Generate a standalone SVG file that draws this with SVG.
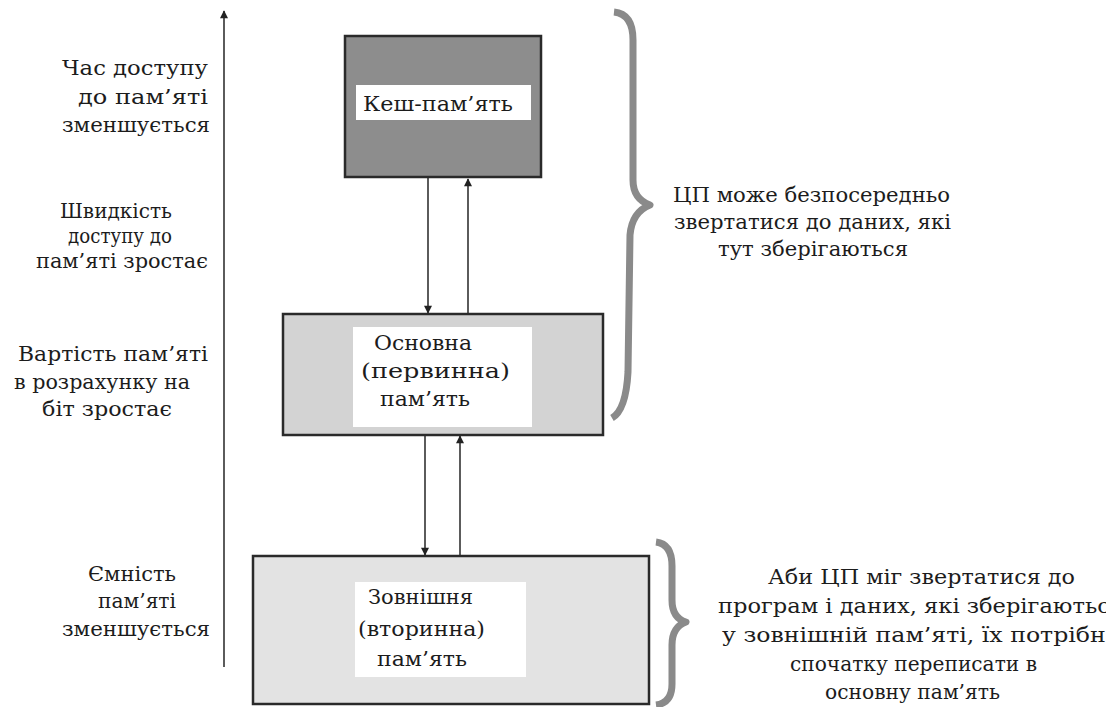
<svg xmlns="http://www.w3.org/2000/svg" width="1106" height="707" viewBox="0 0 1106 707" font-family="'DejaVu Serif', 'Liberation Serif', serif">
<style>
text{font-family:'DejaVu Serif','Liberation Serif',serif;font-size:21px;fill:#1c1c1c}
.box{stroke:#2a2a2a;stroke-width:2.5}
.lbl{fill:#fff;stroke:none}
.conn{stroke:#333;stroke-width:1.6;fill:none}
.brace{fill:none;stroke:#8a8a8a;stroke-width:7;stroke-linejoin:round}
</style>
<defs>
<marker id="ah" viewBox="0 0 10 10" refX="9" refY="5" markerWidth="9" markerHeight="8" markerUnits="userSpaceOnUse" orient="auto">
<path d="M0,0 L10,5 L0,10 z" fill="#222"/>
</marker>
</defs>
<rect width="1106" height="707" fill="#fff"/>

<g id="axis">
<line class="conn" x1="224" y1="667" x2="224" y2="11" marker-end="url(#ah)"/>
</g>

<g id="left-labels">
<g id="lbl-time">
<text x="62" y="75" textLength="146" lengthAdjust="spacingAndGlyphs">Час доступу</text>
<text x="78" y="104" textLength="130" lengthAdjust="spacingAndGlyphs">до пам’яті</text>
<text x="62" y="132" textLength="148" lengthAdjust="spacingAndGlyphs">зменшується</text>
</g>
<g id="lbl-speed">
<text x="60" y="218" textLength="112" lengthAdjust="spacingAndGlyphs">Швидкість</text>
<text x="68" y="243" textLength="104" lengthAdjust="spacingAndGlyphs">доступу до</text>
<text x="36" y="268" textLength="172" lengthAdjust="spacingAndGlyphs">пам’яті зростає</text>
</g>
<g id="lbl-cost">
<text x="18" y="361" textLength="190" lengthAdjust="spacingAndGlyphs">Вартість пам’яті</text>
<text x="14" y="389" textLength="176" lengthAdjust="spacingAndGlyphs">в розрахунку на</text>
<text x="42" y="416" textLength="130" lengthAdjust="spacingAndGlyphs">біт зростає</text>
</g>
<g id="lbl-capacity">
<text x="88" y="581" textLength="88" lengthAdjust="spacingAndGlyphs">Ємність</text>
<text x="98" y="608" textLength="78" lengthAdjust="spacingAndGlyphs">пам’яті</text>
<text x="62" y="636" textLength="148" lengthAdjust="spacingAndGlyphs">зменшується</text>
</g>
</g>

<g id="connectors">
<line class="conn" x1="428" y1="178" x2="428" y2="313" marker-end="url(#ah)"/>
<line class="conn" x1="468" y1="314" x2="468" y2="179" marker-end="url(#ah)"/>
<line class="conn" x1="425" y1="436" x2="425" y2="555" marker-end="url(#ah)"/>
<line class="conn" x1="460" y1="556" x2="460" y2="436" marker-end="url(#ah)"/>
</g>

<g id="cache">
<rect class="box" x="345" y="36" width="196" height="141" fill="#8d8d8d"/>
<rect class="lbl" x="356" y="85" width="175" height="35"/>
<text x="363" y="111" textLength="150" lengthAdjust="spacingAndGlyphs">Кеш-пам’ять</text>
</g>

<g id="main-memory">
<rect class="box" x="283" y="314" width="320" height="121" fill="#d3d3d3"/>
<rect class="lbl" x="353" y="327" width="179" height="100"/>
<text x="374" y="350" textLength="98" lengthAdjust="spacingAndGlyphs">Основна</text>
<text x="361" y="378" textLength="149" lengthAdjust="spacingAndGlyphs">(первинна)</text>
<text x="380" y="406" textLength="90" lengthAdjust="spacingAndGlyphs">пам’ять</text>
</g>

<g id="external-memory">
<rect class="box" x="253" y="556" width="396" height="148" fill="#e3e3e3"/>
<rect class="lbl" x="355" y="582" width="171" height="95"/>
<text x="368" y="604" textLength="105" lengthAdjust="spacingAndGlyphs">Зовнішня</text>
<text x="358" y="636" textLength="127" lengthAdjust="spacingAndGlyphs">(вторинна)</text>
<text x="377" y="666" textLength="90" lengthAdjust="spacingAndGlyphs">пам’ять</text>
</g>

<g id="brace-top">
<path class="brace" d="M614 12 Q633 14 633 40 L633 180 Q633 199 650 205 Q632 212 630 235 L628 372 Q626 410 612 418"/>
</g>
<g id="note-top">
<text x="673" y="202" textLength="277" lengthAdjust="spacingAndGlyphs">ЦП може безпосередньо</text>
<text x="674" y="229" textLength="277" lengthAdjust="spacingAndGlyphs">звертатися до даних, які</text>
<text x="718" y="256" textLength="190" lengthAdjust="spacingAndGlyphs">тут зберігаються</text>
</g>

<g id="brace-bottom">
<path class="brace" d="M656 542 Q672 544 672 566 L672 600 Q672 618 686 622 Q672 627 672 645 L672 684 Q672 703 656 705"/>
</g>
<g id="note-bottom">
<text x="768" y="584" textLength="307" lengthAdjust="spacingAndGlyphs">Аби ЦП міг звертатися до</text>
<text x="718" y="613" textLength="406" lengthAdjust="spacingAndGlyphs">програм і даних, які зберігаються</text>
<text x="722" y="642" textLength="398" lengthAdjust="spacingAndGlyphs">у зовнішній пам’яті, їх потрібно</text>
<text x="790" y="671" textLength="247" lengthAdjust="spacingAndGlyphs">спочатку переписати в</text>
<text x="825" y="699" textLength="175" lengthAdjust="spacingAndGlyphs">основну пам’ять</text>
</g>
</svg>
